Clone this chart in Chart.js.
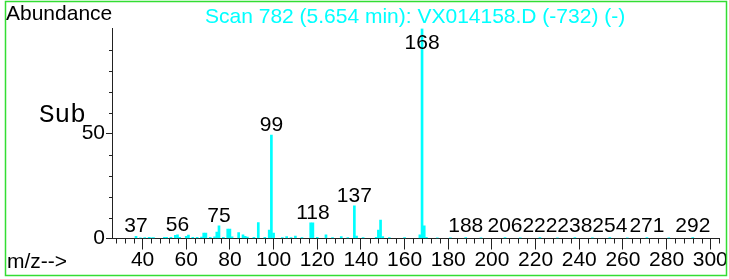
<!DOCTYPE html>
<html>
<head>
<meta charset="utf-8">
<script src="https://cdn.jsdelivr.net/npm/chart.js@4"></script>
<style>
html, body { margin: 0; padding: 0; background: #fff; }
#wrap { width: 729px; height: 279px; position: relative; }
</style>
</head>
<body>
<div id="wrap"><canvas id="espectro"></canvas></div>
<script>
const massas = [37, 39, 41, 43, 44, 45, 50, 51, 53, 55, 56, 57, 60, 61, 63, 65, 67, 68, 69, 71, 73, 74, 75, 77, 79, 80, 81, 84, 86, 87, 88, 91, 93, 96, 98, 99, 100, 104, 106, 108, 110, 113, 117, 118, 120, 124, 127, 131, 134, 137, 138, 141, 147, 148, 149, 150, 153, 160, 167, 168, 169, 170, 175, 181, 188, 195, 206, 213, 222, 230, 238, 246, 254, 262, 271, 281, 292]
const abundancias = [1.0, 0.3, 0.4, 0.5, 0.3, 0.4, 0.5, 0.6, 0.5, 1.5, 1.8, 0.6, 1.0, 1.6, 0.6, 0.5, 0.7, 2.6, 2.6, 0.5, 0.8, 3.0, 6.0, 0.6, 4.5, 4.5, 0.8, 2.8, 1.7, 1.0, 0.7, 0.6, 7.6, 0.5, 4.0, 49.3, 2.6, 0.4, 0.9, 0.4, 1.2, 0.4, 7.5, 7.5, 0.5, 1.7, 0.4, 0.9, 0.4, 15.6, 1.2, 0.4, 0.5, 4.0, 8.8, 0.9, 0.4, 0.4, 1.7, 100, 6.0, 0.6, 0.3, 0.3, 0.4, 0.3, 0.4, 0.3, 0.4, 0.3, 0.4, 0.3, 0.4, 0.3, 0.4, 0.3, 0.4]
const picosRotulados = [37, 56, 75, 99, 118, 137, 168, 188, 206, 222, 238, 254, 271, 292]
const ticksX = [40, 60, 80, 100, 120, 140, 160, 180, 200, 220, 240, 260, 280, 300]
const ticksY = [0, 50]
const titulo = 'Scan 782 (5.654 min): VX014158.D (-732) (-)'

const fonte = 'Arial, "Liberation Sans", sans-serif'
const corEixo = '#222'

// textos, moldura e ticks menores
const extras = {
	id: 'extras',
	afterDatasetsDraw(chart) {
		const ctx = chart.ctx
		const xs = chart.scales.x
		const ys = chart.scales.y
		const area = chart.chartArea
		ctx.save()
		ctx.font = '21px ' + fonte
		ctx.fillStyle = '#000'
		ctx.textAlign = 'center'
		ctx.textBaseline = 'alphabetic'
		picosRotulados.forEach(m => {
			const v = abundancias[massas.indexOf(m)]
			let y = Math.min(ys.getPixelForValue(v) - 4, ys.getPixelForValue(0) - 7)
			y = Math.max(y, area.top + 20)
			ctx.fillText(String(m), xs.getPixelForValue(m), y)
		})
		ctx.restore()
	},
	afterDraw(chart) {
		const ctx = chart.ctx
		const xs = chart.scales.x
		const ys = chart.scales.y
		const area = chart.chartArea
		ctx.save()
		// ticks menores
		ctx.strokeStyle = corEixo
		ctx.lineWidth = 1
		ctx.beginPath()
		for (let v = 28; v <= 304; v += 4) {
			if (v % 20 === 0) continue
			const x = Math.round(xs.getPixelForValue(v)) + 0.5
			ctx.moveTo(x, area.bottom)
			ctx.lineTo(x, area.bottom + 5)
		}
		for (let v = 10; v < 100; v += 10) {
			if (v === 50) continue
			const y = Math.round(ys.getPixelForValue(v)) + 0.5
			ctx.moveTo(area.left, y)
			ctx.lineTo(area.left - 3, y)
		}
		ctx.stroke()
		// moldura verde
		ctx.strokeStyle = '#33dd33'
		ctx.lineWidth = 1.5
		ctx.strokeRect(5.5, 1.5, 721, 274)
		// textos
		ctx.font = '21px ' + fonte
		ctx.textAlign = 'left'
		ctx.textBaseline = 'alphabetic'
		ctx.fillStyle = '#000'
		ctx.fillText('Abundance', 6, 20)
		ctx.fillText('m/z-->', 7, 268)
		ctx.fillStyle = '#00ffff'
		ctx.fillText(titulo, 205, 22.5)
		ctx.fillStyle = '#000'
		ctx.font = '26px "Courier New", "Liberation Mono", monospace'
		ctx.fillText('Sub', 39, 122)
		ctx.restore()
	}
}

const chart = new Chart(document.getElementById('espectro'), {
	type: 'bar',
	data: {
		datasets: [{
			data: massas.map((m, i) => ({ x: m, y: abundancias[i] })),
			backgroundColor: '#00ffff',
			borderWidth: 0,
			barThickness: 2,
			grouped: false
		}]
	},
	options: {
		responsive: true,
		maintainAspectRatio: false,
		animation: false,
		devicePixelRatio: 1,
		layout: { padding: { left: 0, top: 28.5, right: 10, bottom: 0 } },
		plugins: { legend: { display: false }, tooltip: { enabled: false } },
		scales: {
			x: {
				type: 'linear',
				min: 26,
				max: 304,
				offset: false,
				afterBuildTicks: s => { s.ticks = ticksX.map(v => ({ value: v })) },
				afterFit: s => { s.height = 40.5 },
				ticks: { font: { size: 21, family: fonte }, color: '#000', padding: -2, maxRotation: 0, autoSkip: false },
				grid: { drawOnChartArea: false, drawTicks: true, tickLength: 11, color: corEixo, tickColor: corEixo, offset: false },
				border: { display: true, color: corEixo, width: 1 }
			},
			y: {
				min: 0,
				max: 100,
				afterBuildTicks: s => { s.ticks = ticksY.map(v => ({ value: v })) },
				afterFit: s => { s.width = 112 },
				ticks: { font: { size: 21, family: fonte }, color: '#000', padding: 1 },
				grid: { drawOnChartArea: false, drawTicks: true, tickLength: 6, color: corEixo, tickColor: corEixo },
				border: { display: true, color: corEixo, width: 1 }
			}
		}
	},
	plugins: [extras]
})
</script>
</body>
</html>
